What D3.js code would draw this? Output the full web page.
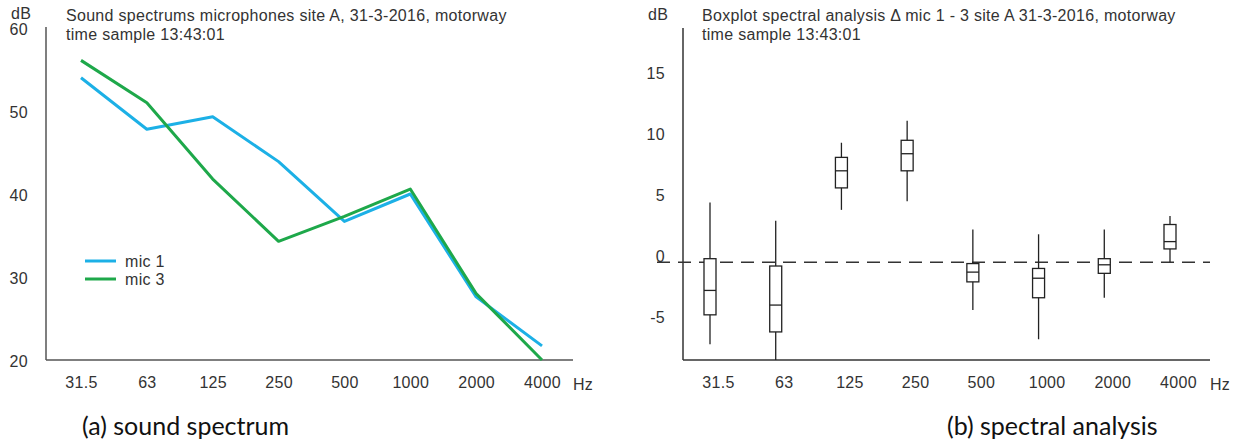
<!DOCTYPE html>
<html><head><meta charset="utf-8">
<script src="https://cdn.jsdelivr.net/npm/d3@7/dist/d3.min.js"></script>
<style>
body{margin:0;background:#fff;}
svg{display:block;}
text{font-family:"Liberation Sans",Arial,sans-serif;fill:#333;letter-spacing:0.3px;}
.cap{font-family:Lato,"Open Sans",sans-serif;fill:#111;letter-spacing:0;}
</style></head><body>
<svg id="c" width="1237" height="441"></svg>
<script>
// ---- data ----
const bands = ["31.5","63","125","250","500","1000","2000","4000"];
const mic1 = [54.0, 47.8, 49.3, 43.9, 36.7, 40.0, 27.6, 21.7];
const mic3 = [56.1, 51.0, 41.8, 34.3, 37.3, 40.6, 28.0, 20.0];
const leftTicks = [20, 30, 40, 50, 60];
const seriesNames = ["mic 1", "mic 3"];
// boxplot stats per band: whisker low, q1, median, q3, whisker high
const wLow  = [-6.7, -8.0, 4.3, 5.0, -3.9, -6.3, -2.9, 0.0];
const q1    = [-4.3, -5.7, 6.1, 7.5, -1.6, -2.9, -0.9, 1.1];
const med   = [-2.3, -3.5, 7.5, 8.9, -0.8, -1.3, -0.2, 1.7];
const q3    = [ 0.3, -0.3, 8.6, 10.0, -0.1, -0.5, 0.3, 3.1];
const wHigh = [ 4.9,  3.4, 9.8, 11.6, 2.7, 2.3, 2.7, 3.8];
const rightTicks = [-5, 0, 5, 10, 15];

const svg = d3.select("#c");
const colors = ["#1cb0e6", "#1ea84a"];
const axisColor = "#555";
const fs = "16px";
const plain = d => String(d);

// ===== Left chart =====
const xL = d3.scalePoint().domain(bands).range([81, 542]);
const yL = d3.scaleLinear().domain([20, 60]).range([360, 28]);
const gL = svg.append("g");
gL.append("line").attr("x1",46).attr("x2",46).attr("y1",27).attr("y2",360).attr("stroke",axisColor).attr("stroke-width",1.5);
gL.append("line").attr("x1",46).attr("x2",573).attr("y1",360).attr("y2",360).attr("stroke",axisColor).attr("stroke-width",1.5);
const axL = gL.append("g").attr("transform","translate(46,1)")
  .call(d3.axisLeft(yL).tickValues(leftTicks).tickFormat(plain).tickSize(0).tickPadding(18));
axL.select(".domain").remove();
axL.selectAll("text").style("font-size",fs).attr("fill","#333").attr("font-family",null);
const axLB = gL.append("g").attr("transform","translate(0,360)")
  .call(d3.axisBottom(xL).tickSize(0).tickPadding(17));
axLB.select(".domain").remove();
axLB.selectAll("text").style("font-size",fs).attr("fill","#333").attr("font-family",null);
gL.append("text").attr("x",573).attr("y",390).style("font-size",fs).text("Hz");
gL.append("text").attr("x",11).attr("y",19).style("font-size",fs).text("dB");
gL.append("text").attr("x",66).attr("y",21).style("font-size",fs).text("Sound spectrums microphones site A, 31-3-2016, motorway");
gL.append("text").attr("x",66).attr("y",40).style("font-size",fs).text("time sample 13:43:01");

const line = d3.line().x((d,i)=>xL(bands[i])).y(d=>yL(d));
[mic1, mic3].forEach((s,k)=>{
  gL.append("path").datum(s).attr("d",line).attr("fill","none")
    .attr("stroke",colors[k]).attr("stroke-width",3).attr("stroke-linejoin","round");
});
// legend
seriesNames.forEach((n,k)=>{
  const y = 261 + k*18;
  gL.append("line").attr("x1",85).attr("x2",116).attr("y1",y).attr("y2",y).attr("stroke",colors[k]).attr("stroke-width",3);
  gL.append("text").attr("x",125).attr("y",y+6).style("font-size",fs).text(n);
});
svg.append("text").attr("class","cap").attr("x",82).attr("y",435).style("font-size","25px").text("(a) sound spectrum");

// ===== Right chart =====
const xR = d3.scalePoint().domain(bands).range([710, 1170]);
const yR = d3.scaleLinear().domain([-8, 19.2]).range([360, 28]);
const gR = svg.append("g");
gR.append("line").attr("x1",683).attr("x2",683).attr("y1",28).attr("y2",360).attr("stroke","#333").attr("stroke-width",1.5);
gR.append("line").attr("x1",683).attr("x2",1210).attr("y1",360).attr("y2",360).attr("stroke","#333").attr("stroke-width",1.5);
const axR = gR.append("g").attr("transform","translate(683,-6)")
  .call(d3.axisLeft(yR).tickValues(rightTicks).tickFormat(plain).tickSize(0).tickPadding(18));
axR.select(".domain").remove();
axR.selectAll("text").style("font-size",fs).attr("fill","#333").attr("font-family",null);
const axRB = gR.append("g").attr("transform","translate(8,360)")
  .call(d3.axisBottom(xR).tickSize(0).tickPadding(17));
axRB.select(".domain").remove();
axRB.selectAll("text").style("font-size",fs).attr("fill","#333").attr("font-family",null);
gR.append("text").attr("x",1210).attr("y",390).style("font-size",fs).text("Hz");
gR.append("text").attr("x",648).attr("y",20).style("font-size",fs).text("dB");
gR.append("text").attr("x",702).attr("y",21).style("font-size",fs).text("Boxplot spectral analysis \u0394 mic 1 - 3 site A 31-3-2016, motorway");
gR.append("text").attr("x",702).attr("y",40).style("font-size",fs).text("time sample 13:43:01");

// dashed zero line
gR.append("line").attr("x1",657).attr("x2",1210).attr("y1",yR(0)).attr("y2",yR(0))
  .attr("stroke","#333").attr("stroke-width",1.5).attr("stroke-dasharray","13,8");

const bw = 12;
bands.forEach((b,i)=>{
  const cx = xR(b);
  const g = gR.append("g");
  g.append("line").attr("x1",cx).attr("x2",cx).attr("y1",yR(wHigh[i])).attr("y2",yR(wLow[i])).attr("stroke","#222").attr("stroke-width",1.3);
  g.append("rect").attr("x",cx-bw/2).attr("width",bw).attr("y",yR(q3[i])).attr("height",yR(q1[i])-yR(q3[i]))
    .attr("fill","#fff").attr("stroke","#222").attr("stroke-width",1.3);
  g.append("line").attr("x1",cx-bw/2).attr("x2",cx+bw/2).attr("y1",yR(med[i])).attr("y2",yR(med[i])).attr("stroke","#222").attr("stroke-width",1.3);
});
svg.append("text").attr("class","cap").attr("x",947).attr("y",435).style("font-size","25px").text("(b) spectral analysis");
</script>
</body></html>
